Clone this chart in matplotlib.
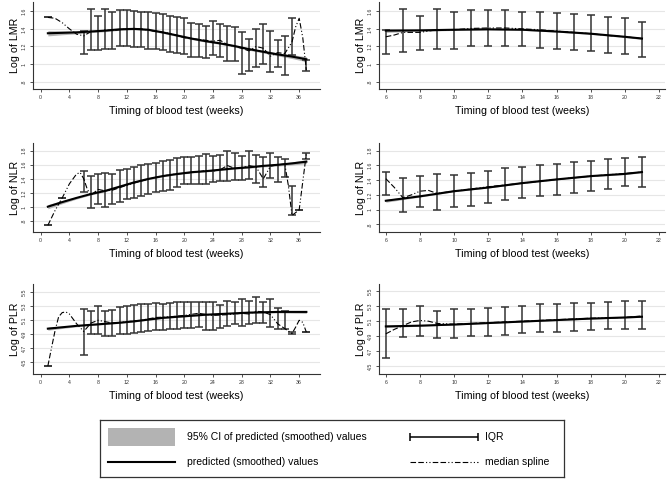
import numpy as np
import matplotlib.pyplot as plt
from matplotlib.patches import Rectangle
from matplotlib.lines import Line2D

plt.rcParams['font.family'] = ['Liberation Sans', 'DejaVu Sans']

# ---- data: left column (weeks 1-37) ----
iqr_weeks_l = [1, 6, 7, 8, 9, 10, 11, 12, 13, 14, 15, 16, 17, 18, 19, 20, 21, 22, 23, 24, 25,
               26, 27, 28, 29, 30, 31, 32, 33, 34, 35, 37]
lmr_lo_l = [1.53, 1.115, 1.155, 1.16, 1.17, 1.175, 1.2, 1.2, 1.19, 1.19, 1.17, 1.17, 1.16, 1.14, 1.13,
            1.11, 1.085, 1.08, 1.07, 1.10, 1.085, 1.04, 1.03, 0.89, 0.92, 0.97, 1.0, 0.91, 0.97, 0.88,
            1.10, 0.925]
lmr_hi_l = [1.53, 1.375, 1.62, 1.544, 1.62, 1.59, 1.61, 1.61, 1.60, 1.59, 1.59, 1.58, 1.57, 1.55, 1.53,
            1.52, 1.47, 1.46, 1.435, 1.49, 1.45, 1.43, 1.42, 1.36, 1.29, 1.40, 1.45, 1.37, 1.27, 1.32,
            1.52, 1.05]

iqr_weeks_nl = [1, 3, 6, 7, 8, 9, 10, 11, 12, 13, 14, 15, 16, 17, 18, 19, 20, 21, 22, 23, 24, 25,
                26, 27, 28, 29, 30, 31, 32, 33, 34, 35, 36, 37]
nlr_lo_l = [0.74, 1.13, 1.21, 0.98, 1.05, 1.0, 1.04, 1.07, 1.11, 1.135, 1.16, 1.185, 1.21, 1.233, 1.247,
            1.28, 1.33, 1.33, 1.33, 1.33, 1.354, 1.37, 1.363, 1.387, 1.387, 1.40, 1.34, 1.28, 1.41,
            1.354, 1.426, 0.885, 0.96, 1.68]
nlr_hi_l = [0.74, 1.13, 1.513, 1.436, 1.465, 1.49, 1.475, 1.53, 1.54, 1.57, 1.595, 1.61, 1.63, 1.653,
            1.668, 1.70, 1.706, 1.706, 1.73, 1.75, 1.726, 1.74, 1.79, 1.764, 1.73, 1.80, 1.74, 1.706,
            1.774, 1.716, 1.68, 1.296, 0.96, 1.764]

iqr_weeks_pl = [1, 6, 7, 8, 9, 10, 11, 12, 13, 14, 15, 16, 17, 18, 19, 20, 21, 22, 23, 24, 25,
                26, 27, 28, 29, 30, 31, 32, 33, 34, 35, 37]
plr_lo_l = [4.445, 4.60, 4.90, 4.90, 4.875, 4.875, 4.90, 4.91, 4.92, 4.93, 4.94, 4.955, 4.955, 4.97,
            4.98, 4.99, 4.99, 5.0, 4.955, 4.955, 4.99, 5.02, 5.04, 5.02, 5.04, 5.06, 5.06, 5.0, 4.97,
            4.98, 4.90, 4.93]
plr_hi_l = [4.445, 5.26, 5.23, 5.31, 5.23, 5.25, 5.29, 5.30, 5.315, 5.33, 5.33, 5.35, 5.34, 5.35, 5.36,
            5.365, 5.365, 5.365, 5.36, 5.355, 5.325, 5.38, 5.365, 5.40, 5.38, 5.435, 5.355, 5.405,
            5.28, 5.23, 4.93, 4.93]

pred_weeks_l = [1, 3, 5, 7, 9, 11, 13, 15, 17, 19, 21, 23, 25, 27, 29, 31, 33, 35, 37]
lmr_pred_l = [1.35, 1.355, 1.36, 1.37, 1.38, 1.395, 1.40, 1.39, 1.36, 1.325, 1.29, 1.26, 1.235, 1.205,
              1.17, 1.14, 1.11, 1.085, 1.055]
nlr_pred_l = [1.005, 1.07, 1.13, 1.185, 1.23, 1.29, 1.35, 1.40, 1.44, 1.47, 1.495, 1.51, 1.53, 1.55,
              1.565, 1.585, 1.60, 1.62, 1.645]
plr_pred_l = [4.98, 5.00, 5.02, 5.035, 5.05, 5.065, 5.085, 5.11, 5.135, 5.15, 5.165, 5.18, 5.19, 5.20,
              5.21, 5.215, 5.22, 5.22, 5.22]
ci_half_l = [0.03, 0.022, 0.016, 0.013, 0.012, 0.011, 0.011, 0.011, 0.011, 0.011, 0.011, 0.011, 0.011,
             0.012, 0.013, 0.014, 0.017, 0.022, 0.028]
ci_half_pl = [0.022, 0.017, 0.013, 0.011, 0.01, 0.009, 0.009, 0.009, 0.009, 0.009, 0.009, 0.009, 0.009,
              0.01, 0.011, 0.012, 0.014, 0.017, 0.02]

lmr_med_x_l = [1, 2, 3, 4, 5, 6, 7, 8, 9, 10, 12, 14, 16, 18, 20, 22, 24, 25, 26, 27, 28, 29, 30, 31,
               32, 33, 34, 35, 35.5, 36, 36.5, 37]
lmr_med_l = [1.53, 1.52, 1.47, 1.40, 1.34, 1.32, 1.37, 1.37, 1.39, 1.38, 1.40, 1.40, 1.37, 1.35, 1.30,
             1.28, 1.26, 1.27, 1.22, 1.20, 1.18, 1.15, 1.20, 1.18, 1.09, 1.13, 1.12, 1.25, 1.42, 1.52,
             1.30, 0.93]
nlr_med_x_l = [1, 2, 3, 4, 5, 5.5, 6, 6.5, 7, 8, 9, 10, 12, 14, 16, 18, 20, 22, 23, 24, 25, 26, 27, 28,
               29, 30, 31, 32, 33, 34, 34.5, 35, 36, 37]
nlr_med_l = [0.74, 0.95, 1.13, 1.33, 1.47, 1.49, 1.40, 1.25, 1.17, 1.25, 1.23, 1.24, 1.31, 1.37, 1.42,
             1.46, 1.48, 1.50, 1.52, 1.51, 1.53, 1.59, 1.55, 1.55, 1.59, 1.57, 1.40, 1.58, 1.60, 1.61,
             1.30, 0.88, 0.96, 1.76]
plr_med_x_l = [1, 1.5, 2, 2.5, 3, 3.5, 4, 5, 6, 6.5, 7, 8, 9, 10, 12, 14, 16, 18, 20, 22, 24, 26, 28,
               29, 30, 31, 32, 33, 34, 35, 35.5, 36, 36.5, 37]
plr_med_l = [4.445, 4.70, 4.95, 5.15, 5.21, 5.22, 5.19, 5.05, 4.94, 5.0, 5.06, 5.10, 5.08, 5.06, 5.08,
             5.10, 5.14, 5.15, 5.17, 5.20, 5.17, 5.18, 5.20, 5.19, 5.23, 5.22, 5.18, 5.05, 4.98, 4.91,
             5.0, 5.10, 5.07, 4.93]

# ---- data: right column (weeks 6-21) ----
iqr_weeks_r = [6, 7, 8, 9, 10, 11, 12, 13, 14, 15, 16, 17, 18, 19, 20, 21]
lmr_lo_r = [1.115, 1.135, 1.157, 1.17, 1.175, 1.205, 1.2, 1.2, 1.2, 1.18, 1.17, 1.16, 1.15, 1.13, 1.11,
            1.085]
lmr_hi_r = [1.386, 1.62, 1.545, 1.63, 1.59, 1.61, 1.61, 1.61, 1.59, 1.59, 1.58, 1.57, 1.555, 1.535,
            1.52, 1.48]
nlr_lo_r = [1.20, 0.97, 1.04, 0.99, 1.03, 1.05, 1.09, 1.13, 1.16, 1.185, 1.20, 1.225, 1.25, 1.28, 1.315,
            1.31]
nlr_hi_r = [1.51, 1.43, 1.46, 1.485, 1.47, 1.50, 1.52, 1.56, 1.58, 1.60, 1.62, 1.645, 1.655, 1.69,
            1.705, 1.72]
plr_lo_r = [4.60, 4.89, 4.90, 4.875, 4.875, 4.90, 4.905, 4.92, 4.935, 4.95, 4.96, 4.965, 4.98, 4.99,
            4.99, 5.0]
plr_hi_r = [5.27, 5.27, 5.30, 5.235, 5.26, 5.26, 5.28, 5.29, 5.31, 5.325, 5.335, 5.34, 5.345, 5.355,
            5.37, 5.37]

pred_weeks_r = [6, 8, 10, 12, 14, 16, 18, 20, 21]
lmr_pred_r = [1.38, 1.383, 1.39, 1.395, 1.39, 1.37, 1.345, 1.31, 1.29]
nlr_pred_r = [1.12, 1.18, 1.25, 1.30, 1.36, 1.41, 1.455, 1.485, 1.51]
plr_pred_r = [5.03, 5.04, 5.055, 5.075, 5.095, 5.115, 5.135, 5.15, 5.16]
ci_half_r = [0.02, 0.01, 0.008, 0.007, 0.007, 0.007, 0.008, 0.009, 0.01]
ci_half_pr = [0.014, 0.008, 0.006, 0.006, 0.006, 0.006, 0.006, 0.007, 0.008]

lmr_med_x_r = [6, 6.5, 7, 8, 8.5, 9, 10, 11, 12, 13, 14, 15, 16, 17, 18, 19, 20, 21]
lmr_med_r = [1.31, 1.33, 1.36, 1.36, 1.375, 1.39, 1.39, 1.405, 1.41, 1.41, 1.40, 1.39, 1.375, 1.36,
             1.345, 1.325, 1.31, 1.29]
nlr_med_x_r = [6, 6.5, 7, 7.5, 8, 8.5, 9, 10, 12, 14, 16, 18, 20, 21]
nlr_med_r = [1.42, 1.30, 1.16, 1.20, 1.25, 1.26, 1.22, 1.25, 1.31, 1.36, 1.41, 1.455, 1.49, 1.51]
plr_med_x_r = [6, 6.5, 7, 7.5, 8, 8.5, 9, 10, 12, 14, 16, 18, 20, 21]
plr_med_r = [4.93, 4.99, 5.04, 5.09, 5.11, 5.10, 5.07, 5.06, 5.08, 5.10, 5.12, 5.14, 5.15, 5.17]

# y ticks
lmr_ticks = [0.8, 1.0, 1.2, 1.4, 1.6]
lmr_tlabels = ['.8', '1', '1.2', '1.4', '1.6']
nlr_ticks = [0.8, 1.0, 1.2, 1.4, 1.6, 1.8]
nlr_tlabels = ['.8', '1', '1.2', '1.4', '1.6', '1.8']
plr_ticks = [4.5, 4.7, 4.9, 5.1, 5.3, 5.5]
plr_tlabels = ['4.5', '4.7', '4.9', '5.1', '5.3', '5.5']

BAND = '#b3b3b3'
BAR = '#333333'
MED_DASH = (0, (5, 2, 5, 2, 1, 2, 1, 2))


def draw_panel(ax, iqr_w, lo, hi, pw, pred, half, mx, med, ylabel, ticks, tlabels, xlim, ylim, xticks):
    pred = np.array(pred)
    half = np.array(half)
    ax.fill_between(pw, pred - half, pred + half, color=BAND, lw=0, zorder=2)
    lo = np.array(lo)
    hi = np.array(hi)
    mid = (lo + hi) / 2
    ax.errorbar(iqr_w, mid, yerr=[mid - lo, hi - mid], fmt='none', ecolor=BAR,
                elinewidth=1.1, capsize=2.6, capthick=1.1, zorder=3)
    ax.plot(pw, pred, color='black', lw=1.5, zorder=4)
    ax.plot(mx, med, color='black', lw=0.8, linestyle=MED_DASH, zorder=5)

    ax.set_xlim(*xlim)
    ax.set_ylim(*ylim)
    ax.set_xticks(xticks)
    ax.set_xticklabels([str(t) for t in xticks], fontsize=3.8, color='#333333')
    ax.set_yticks(ticks)
    ax.set_yticklabels(tlabels, fontsize=3.8, rotation=90, va='center', color='#333333')
    ax.grid(axis='y', color='#e6e6e6', lw=0.8, zorder=0)
    ax.set_axisbelow(True)
    for s in ['top', 'right']:
        ax.spines[s].set_visible(False)
    for s in ['left', 'bottom']:
        ax.spines[s].set_color('#333333')
        ax.spines[s].set_linewidth(0.8)
    ax.tick_params(length=2.5, width=0.6, color='#333333', pad=2)
    ax.set_xlabel('Timing of blood test (weeks)', fontsize=7.7, labelpad=4)
    ax.set_ylabel(ylabel, fontsize=7.7, labelpad=1)


fig = plt.figure(figsize=(6.67, 4.8), dpi=100)

W, H = 667.0, 480.0
lefts = [33 / W, 379 / W]
widths = [287 / W, 286 / W]
rows = [(2, 89), (143, 232), (284, 374)]

xl_l = (-1.07, 38.9)
xl_r = (5.6, 22.35)
xt_l = list(range(0, 37, 4))
xt_r = list(range(6, 23, 2))

axes = []
for r, (top, bot) in enumerate(rows):
    row = []
    for c in range(2):
        row.append(fig.add_axes([lefts[c], 1 - bot / H, widths[c], (bot - top) / H]))
    axes.append(row)

draw_panel(axes[0][0], iqr_weeks_l, lmr_lo_l, lmr_hi_l, pred_weeks_l, lmr_pred_l, ci_half_l,
           lmr_med_x_l, lmr_med_l, 'Log of LMR', lmr_ticks, lmr_tlabels, xl_l, (0.717, 1.705), xt_l)
draw_panel(axes[0][1], iqr_weeks_r, lmr_lo_r, lmr_hi_r, pred_weeks_r, lmr_pred_r, ci_half_r,
           lmr_med_x_r, lmr_med_r, 'Log of LMR', lmr_ticks, lmr_tlabels, xl_r, (0.717, 1.705), xt_r)
draw_panel(axes[1][0], iqr_weeks_nl, nlr_lo_l, nlr_hi_l, pred_weeks_l, nlr_pred_l, ci_half_l,
           nlr_med_x_l, nlr_med_l, 'Log of NLR', nlr_ticks, nlr_tlabels, xl_l, (0.645, 1.91), xt_l)
draw_panel(axes[1][1], iqr_weeks_r, nlr_lo_r, nlr_hi_r, pred_weeks_r, nlr_pred_r, ci_half_r,
           nlr_med_x_r, nlr_med_r, 'Log of NLR', nlr_ticks, nlr_tlabels, xl_r, (0.695, 1.905), xt_r)
draw_panel(axes[2][0], iqr_weeks_pl, plr_lo_l, plr_hi_l, pred_weeks_l, plr_pred_l, ci_half_pl,
           plr_med_x_l, plr_med_l, 'Log of PLR', plr_ticks, plr_tlabels, xl_l, (4.33, 5.62), xt_l)
draw_panel(axes[2][1], iqr_weeks_r, plr_lo_r, plr_hi_r, pred_weeks_r, plr_pred_r, ci_half_pr,
           plr_med_x_r, plr_med_r, 'Log of PLR', plr_ticks, plr_tlabels, xl_r, (4.39, 5.6), xt_r)

# legend box
lax = fig.add_axes([100 / W, 1 - 477 / H, 464 / W, 57 / H])
lax.set_xlim(0, 464)
lax.set_ylim(0, 57)
lax.set_xticks([])
lax.set_yticks([])
for s in lax.spines.values():
    s.set_color('#333333')
    s.set_linewidth(0.9)
lax.add_patch(Rectangle((8, 31), 67, 18, color=BAND, lw=0))
lax.add_line(Line2D([8, 75], [15, 15], color='black', lw=1.5))
lax.text(87, 40, '95% CI of predicted (smoothed) values', fontsize=7.5, va='center')
lax.text(87, 15, 'predicted (smoothed) values', fontsize=7.5, va='center')
lax.errorbar([344], [40], xerr=[34], fmt='none', ecolor='black', elinewidth=1.1,
             capsize=2.6, capthick=1.1)
lax.add_line(Line2D([310, 378], [15, 15], color='black', lw=0.8, linestyle=MED_DASH))
lax.text(385, 40, 'IQR', fontsize=7.5, va='center')
lax.text(385, 15, 'median spline', fontsize=7.5, va='center')

fig.savefig('out.png', dpi=100)
